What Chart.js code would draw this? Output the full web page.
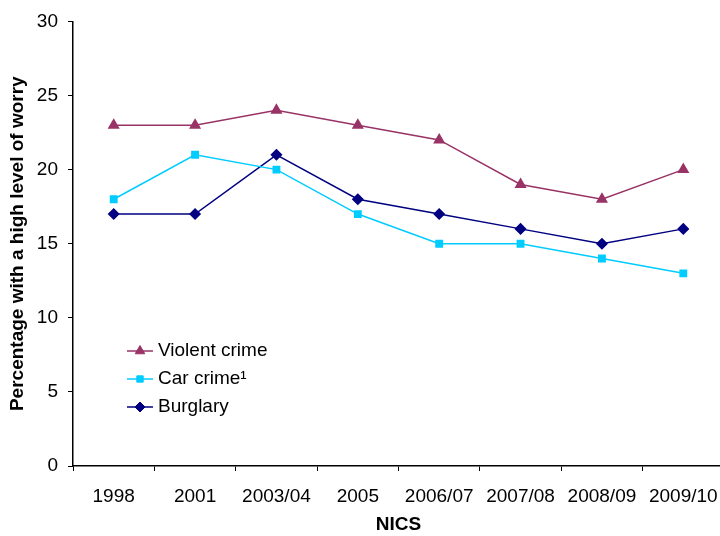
<!DOCTYPE html>
<html>
<head>
<meta charset="utf-8">
<script src="https://cdn.jsdelivr.net/npm/chart.js@4/dist/chart.umd.min.js"></script>
<style>
  html, body { margin: 0; padding: 0; background: #fff; overflow: hidden; }
  #wrap { width: 731px; height: 536px; }
</style>
</head>
<body>
<div id="wrap"><canvas id="worryChart" width="731" height="536"></canvas></div>
<script>
const years = ["1998", "2001", "2003/04", "2005", "2006/07", "2007/08", "2008/09", "2009/10"];
const violentCrime = [23, 23, 24, 23, 22, 19, 18, 20];
const carCrime = [18, 21, 20, 17, 15, 15, 14, 13];
const burglary = [17, 17, 21, 18, 17, 16, 15, 16];
const yTicks = [0, 5, 10, 15, 20, 25, 30];

const FONT = "'Liberation Sans', Arial, sans-serif";

// legend drawn inside the plot, like the original
const insideLegend = {
    id: "insideLegend",
    afterDraw(chart) {
        const ctx = chart.ctx;
        const x0 = 127, x1 = 153, textX = 158;
        const rows = [351, 379, 407];
        ctx.save();
        chart.data.datasets.forEach((ds, i) => {
            const y = rows[i];
            ctx.strokeStyle = ds.borderColor;
            ctx.lineWidth = 1.5;
            ctx.beginPath();
            ctx.moveTo(x0, y);
            ctx.lineTo(x1, y);
            ctx.stroke();
            ctx.fillStyle = ds.pointBackgroundColor;
            ctx.strokeStyle = ds.pointBorderColor;
            ctx.lineWidth = 1;
            Chart.helpers.drawPoint(ctx, {
                pointStyle: ds.pointStyle,
                radius: ds.pointRadius,
                borderWidth: 1
            }, (x0 + x1) / 2, y);
            ctx.fillStyle = "#000";
            ctx.font = "19px " + FONT;
            ctx.textBaseline = "middle";
            ctx.textAlign = "left";
            ctx.fillText(ds.label, textX, y);
        });
        ctx.restore();
    }
};

new Chart(document.getElementById("worryChart").getContext("2d"), {
    type: "line",
    data: {
        labels: years,
        datasets: [
            {
                label: "Violent crime",
                data: violentCrime,
                borderColor: "#993366",
                backgroundColor: "#993366",
                pointBackgroundColor: "#993366",
                pointBorderColor: "#993366",
                pointStyle: "triangle",
                pointRadius: 5.5,
                borderWidth: 1.5
            },
            {
                label: "Car crime\u00b9",
                data: carCrime,
                borderColor: "#00CCFF",
                backgroundColor: "#00CCFF",
                pointBackgroundColor: "#00CCFF",
                pointBorderColor: "#00CCFF",
                pointStyle: "rect",
                pointRadius: 4.5,
                borderWidth: 1.5
            },
            {
                label: "Burglary",
                data: burglary,
                borderColor: "#000080",
                backgroundColor: "#000080",
                pointBackgroundColor: "#000080",
                pointBorderColor: "#000080",
                pointStyle: "rectRot",
                pointRadius: 5,
                borderWidth: 1.5
            }
        ]
    },
    options: {
        responsive: false,
        animation: false,
        layout: { padding: { top: 19, right: 2, left: 0, bottom: 0 } },
        plugins: {
            legend: { display: false },
            tooltip: { enabled: false }
        },
        scales: {
            x: {
                offset: true,
                grid: {
                    offset: true,
                    drawOnChartArea: false,
                    drawTicks: true,
                    tickLength: 5,
                    tickColor: "#000",
                    tickWidth: 1
                },
                border: { color: "#000", width: 1.5 },
                ticks: {
                    color: "#000",
                    font: { family: FONT, size: 19 },
                    padding: 14,
                    maxRotation: 0,
                    autoSkip: false
                },
                title: {
                    display: true,
                    text: "NICS",
                    color: "#000",
                    font: { family: FONT, size: 19, weight: "bold" },
                    padding: { top: 2, bottom: 0 }
                },
                afterFit(scale) {
                    scale.height = 70;
                    scale.paddingLeft = 0;
                    scale.paddingRight = 0;
                }
            },
            y: {
                min: 0,
                max: 30,
                afterBuildTicks(scale) { scale.ticks = yTicks.map(v => ({ value: v })); },
                grid: {
                    drawOnChartArea: false,
                    drawTicks: true,
                    tickLength: 5,
                    tickColor: "#000",
                    tickWidth: 1
                },
                border: { color: "#000", width: 1.5 },
                ticks: {
                    color: "#000",
                    font: { family: FONT, size: 19 },
                    padding: 10
                },
                title: {
                    display: true,
                    text: "Percentage with a high level of worry",
                    color: "#000",
                    font: { family: FONT, size: 19, weight: "bold" },
                    padding: { top: 6, bottom: 4 }
                },
                afterFit(scale) { scale.width = 73; }
            }
        }
    },
    plugins: [insideLegend]
});
</script>
</body>
</html>
